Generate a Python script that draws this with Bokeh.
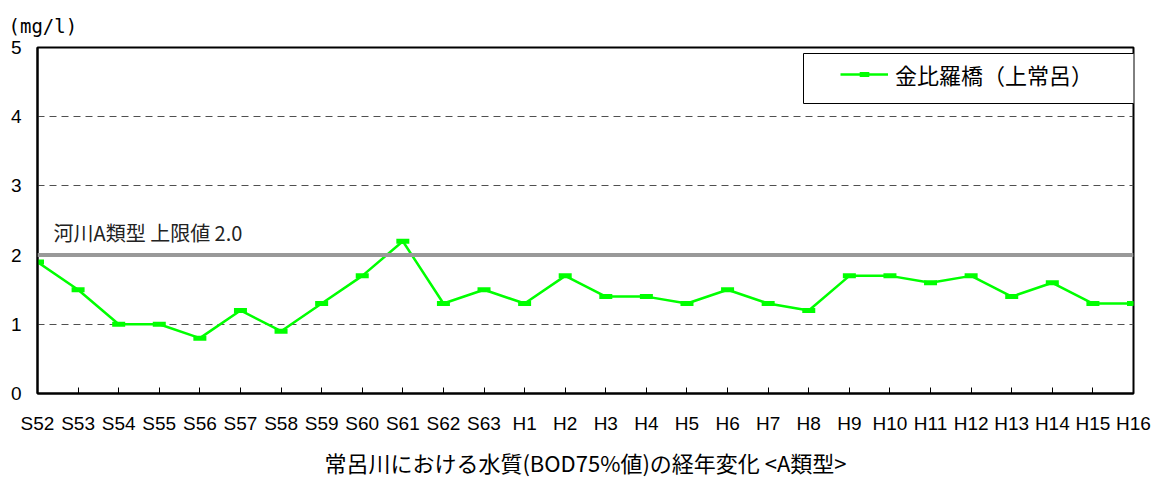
from bokeh.plotting import figure
from bokeh.models import (Span, Label, Legend, LegendItem, BoxAnnotation, FixedTicker,
                          Title)
from bokeh.embed import file_html
from bokeh.resources import INLINE

# ---- data ----
years = ["S52", "S53", "S54", "S55", "S56", "S57", "S58", "S59", "S60", "S61", "S62", "S63",
         "H1", "H2", "H3", "H4", "H5", "H6", "H7", "H8", "H9", "H10", "H11", "H12",
         "H13", "H14", "H15", "H16"]
bod = [1.9, 1.5, 1.0, 1.0, 0.8, 1.2, 0.9, 1.3, 1.7, 2.2, 1.3, 1.5,
       1.3, 1.7, 1.4, 1.4, 1.3, 1.5, 1.3, 1.2, 1.7, 1.7, 1.6, 1.7,
       1.4, 1.6, 1.3, 1.3]
series_name = "金比羅橋（上常呂）"
limit_value = 2.0
limit_text = "河川A類型 上限値 2.0"
y_ticks = [0, 1, 2, 3, 4, 5]
unit_text = "(mg/l)"
x_title = "常呂川における水質(BOD75%値)の経年変化 <A類型>"

xs = list(range(len(years)))

p = figure(width=1152, height=480, output_backend="svg", toolbar_location=None,
           x_range=(0, len(years) - 1), y_range=(0, 5),
           min_border_left=37, min_border_right=19, min_border_top=47, min_border_bottom=86)
p.background_fill_color = "white"
p.border_fill_color = "white"
p.outline_line_color = "black"
p.outline_line_width = 2

# title "(mg/l)"
p.title = Title(text=unit_text, align="left", offset=-29, text_font="DejaVu Sans Mono",
                text_font_size="19px", text_font_style="normal", text_color="black", standoff=22)

# axes
p.xaxis.ticker = FixedTicker(ticks=xs)
p.xaxis.major_label_overrides = {i: lab for i, lab in enumerate(years)}
p.xaxis.major_tick_in = 6
p.xaxis.major_tick_out = 0
p.xaxis.minor_tick_line_color = None
p.xaxis.axis_line_width = 2
p.xaxis.major_tick_line_width = 1
p.xaxis.major_label_text_font = "Liberation Sans"
p.xaxis.major_label_text_font_size = "19px"
p.xaxis.major_label_text_color = "black"
p.xaxis.major_label_standoff = 19
p.xaxis.axis_label = x_title
p.xaxis.axis_label_text_font = "Noto Sans CJK JP"
p.xaxis.axis_label_text_font_size = "22px"
p.xaxis.axis_label_text_font_style = "normal"
p.xaxis.axis_label_text_color = "black"
p.xaxis.axis_label_standoff = 9

p.yaxis.ticker = FixedTicker(ticks=y_ticks)
p.yaxis.major_tick_in = 0
p.yaxis.major_tick_out = 0
p.yaxis.minor_tick_line_color = None
p.yaxis.axis_line_width = 2
p.yaxis.major_label_text_font = "Liberation Sans"
p.yaxis.major_label_text_font_size = "19px"
p.yaxis.major_label_text_color = "black"
p.yaxis.major_label_standoff = 16

# grid
p.xgrid.grid_line_color = None
p.ygrid.ticker = FixedTicker(ticks=[t for t in y_ticks if 0 < t < 5])
p.ygrid.grid_line_color = "#505050"
p.ygrid.grid_line_dash = "7 5"
p.ygrid.grid_line_width = 1

# limit line
p.add_layout(Span(location=limit_value, dimension="width", line_color="#999999", line_width=4))
p.add_layout(Label(x=0, y=limit_value, text=limit_text, x_offset=16, y_offset=8,
                   text_font="Noto Sans CJK JP", text_font_size="20px",
                   text_color="#222222"))

# series
ln = p.line(xs, bod, line_color="#00FF00", line_width=2.5)
mk = p.scatter(xs, bod, marker="dash", size=13, line_color="#00FF00", line_width=5)

# legend (box + transparent legend)
p.add_layout(BoxAnnotation(left=766, right=1105, top=340, bottom=290,
                           left_units="screen", right_units="screen",
                           top_units="screen", bottom_units="screen",
                           fill_color="white", fill_alpha=1.0,
                           line_color="black", line_width=1, line_alpha=1.0))
legend = Legend(items=[LegendItem(label=series_name, renderers=[ln, mk])],
                location=(803, 303), padding=0, margin=0,
                border_line_color=None, background_fill_alpha=0,
                glyph_width=48, glyph_height=24, label_height=24, label_standoff=7,
                label_text_font="Noto Sans CJK JP", label_text_font_size="22px",
                label_text_color="black")
p.add_layout(legend)

open("out.html", "w").write(file_html(p, INLINE))
